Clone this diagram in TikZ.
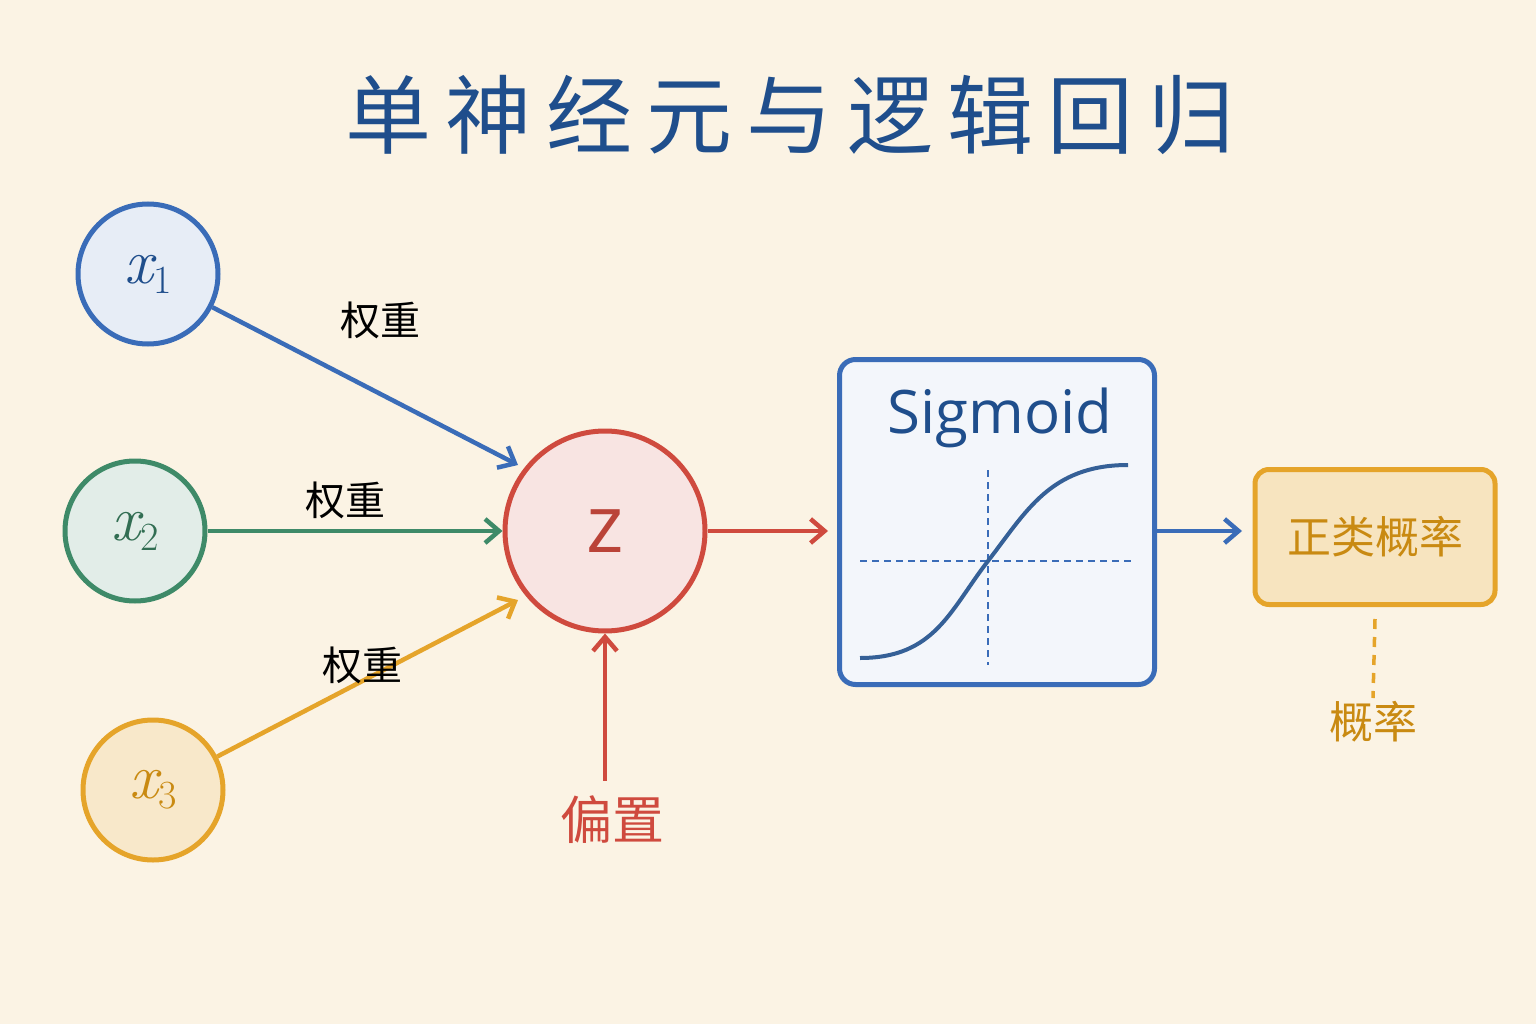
\documentclass[tikz,border=0pt]{standalone}
\usepackage{fontspec}
\newfontfamily\cjk{Noto Sans CJK SC}
\setsansfont{Open Sans}
\usetikzlibrary{arrows.meta}
\definecolor{bg}{HTML}{FBF3E4}
\definecolor{tblue}{HTML}{1F4E8C}
\definecolor{cblue}{HTML}{3A6CB8}
\definecolor{cgreen}{HTML}{3E8A68}
\definecolor{cyel}{HTML}{E5A42A}
\definecolor{cred}{HTML}{CF4A3E}
\definecolor{dyel}{HTML}{C98A12}
\newcommand{\xvar}[1]{{\fontsize{64}{64}\selectfont\itshape x}\raisebox{-10pt}{\fontsize{40}{40}\selectfont #1}}
\begin{document}
\begin{tikzpicture}[x=1pt,y=-1pt,
 inp/.style={circle,minimum size=140pt,line width=5pt,inner sep=0pt},
 arr/.style={line width=4.5pt,-{Straight Barb[length=14pt,width=24pt]}},
 wt/.style={font=\cjk\fontsize{40}{40}\selectfont}]
\fill[bg] (0,0) rectangle (1536,1024);
\useasboundingbox (0,0) rectangle (1536,1024);
\node[text=tblue,font=\cjk\fontsize{86}{86}\selectfont] (title) at (790,115) {单\,神\,经\,元\,与\,逻\,辑\,回\,归};
\node[inp,draw=cblue,fill=cblue!12!white,text=tblue] (x1) at (148,274) {\xvar{1}};
\node[inp,draw=cgreen,fill=cgreen!15!white,text=cgreen!80!black] (x2) at (135,531) {\xvar{2}};
\node[inp,draw=cyel,fill=cyel!25!white,text=dyel] (x3) at (153,790) {\xvar{3}};
\node[circle,minimum size=200pt,line width=5pt,draw=cred,fill=cred!15!white,text=cred!90!black,font=\sffamily\fontsize{80}{80}\selectfont] (z) at (605,531) {z};
\node[draw=cblue,line width=5pt,rounded corners=16pt,fill=cblue!6!white,minimum width=315pt,minimum height=325pt] (sig) at (997,522) {};
\node[text=tblue,font=\sffamily\fontsize{60}{60}\selectfont] (st) at (1000,418) {Sigmoid};
\draw[cblue,line width=1.8pt,dash pattern=on 7pt off 5pt] (860,561) -- (1135,561);
\draw[cblue,line width=1.8pt,dash pattern=on 7pt off 5pt] (988,470) -- (988,665);
\draw[tblue!90,line width=4pt] (860,658) .. controls (935,658) and (950,610) .. (988,561) .. controls (1026,512) and (1050,465) .. (1128,465);
\node[draw=cyel,line width=5pt,rounded corners=14pt,fill=cyel!30!white,minimum width=240pt,minimum height=135pt,text=dyel,font=\cjk\fontsize{44}{44}\selectfont] (pos) at (1375,537) {正类概率};
\node[text=dyel,font=\cjk\fontsize{44}{44}\selectfont] (p) at (1373,722) {概率};
\draw[cyel,line width=3.5pt,dash pattern=on 10pt off 8pt] (pos.south) ++(0,12) -- (p.north);
\node[text=cred,font=\cjk\fontsize{52}{52}\selectfont] (b) at (612,820) {偏置};
\draw[arr,cred] (b.north-|z.south) ++(0,-12) -- (z.south);
\draw[arr,cblue] (x1) -- (518,465);
\draw[arr,cgreen] (x2) -- (z.west);
\draw[arr,cyel] (x3) -- (518,600);
\draw[arr,cred] (z.east) -- (828,531);
\draw[arr,cblue] (sig.east|-z) -- (1242,531);
\node[wt] (w1) at (380,320) {权重};
\node[wt] (w2) at (345,500) {权重};
\node[wt] (w3) at (362,665) {权重};
\end{tikzpicture}
\end{document}
